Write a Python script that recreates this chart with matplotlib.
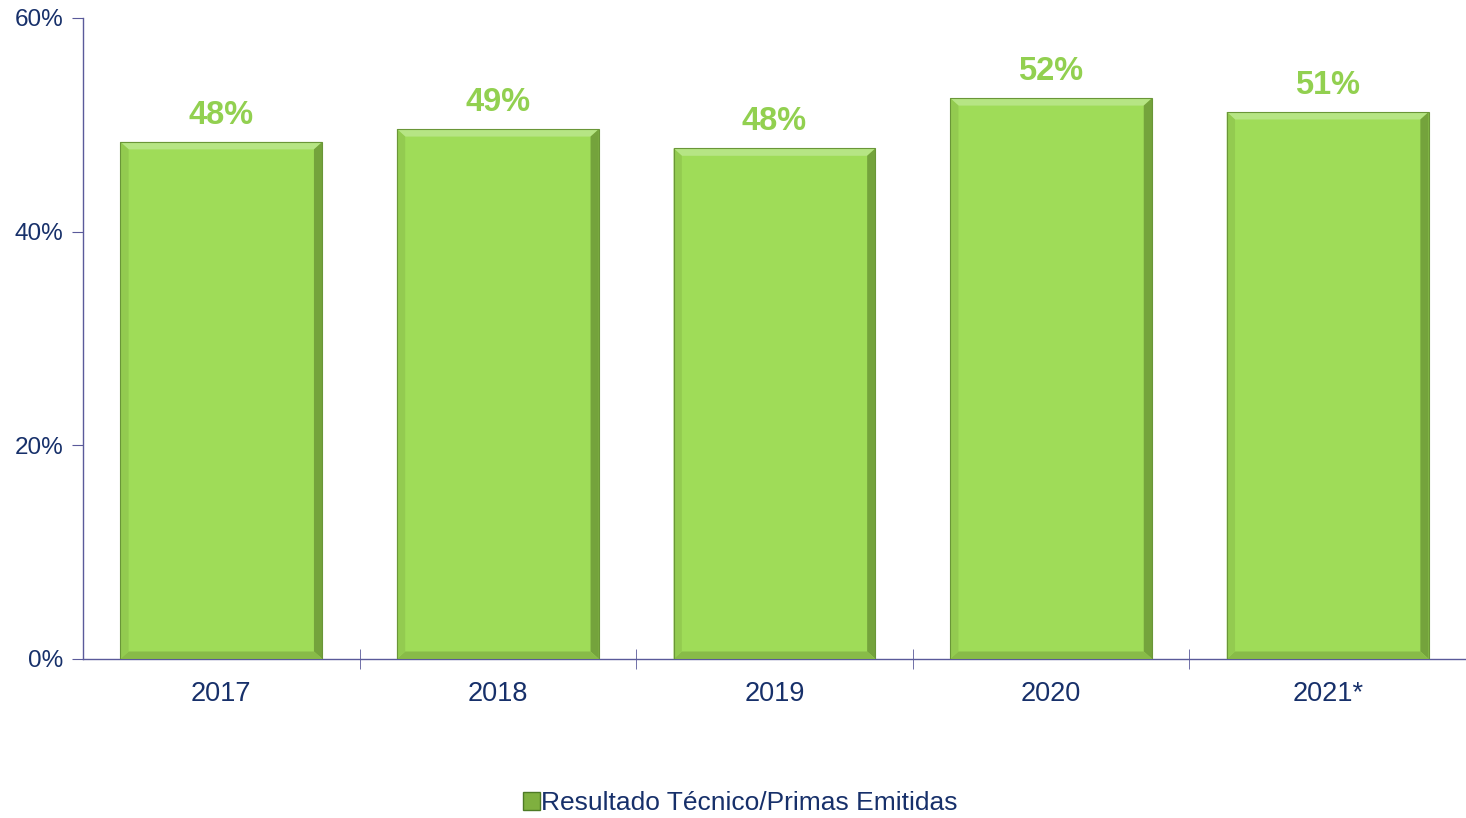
import matplotlib
matplotlib.use("Agg")
import matplotlib.pyplot as plt
from matplotlib.patches import Polygon, Rectangle
from matplotlib.ticker import FuncFormatter, FixedLocator

categories = ["2017", "2018", "2019", "2020", "2021*"]
values = [48.4, 49.6, 47.8, 52.5, 51.2]
labels = ["48%", "49%", "48%", "52%", "51%"]
series_name = "Resultado Técnico/Primas Emitidas"
yticks = [0, 20, 40, 60]

plt.rcParams['font.family'] = ['Liberation Sans', 'DejaVu Sans']
navy = "#17306a"
axis_col = "#5a5a9a"
green = "#9fdc58"
label_green = "#92d050"

fig = plt.figure(figsize=(14.66, 8.18), dpi=100)
ax = fig.add_axes([0.0566, 0.1944, 0.9434, 0.7836])

x = list(range(len(categories)))
width = 0.73
bars = ax.bar(x, values, width=width, color=green, edgecolor="none", linewidth=0, zorder=2)

bx = 0.03
by = 0.7
for rect in bars:
    x0 = rect.get_x(); x1 = x0 + rect.get_width()
    y0 = rect.get_y(); y1 = y0 + rect.get_height()
    ax.add_patch(Polygon([(x0, y1), (x1, y1), (x1 - bx, y1 - by), (x0 + bx, y1 - by)],
                         closed=True, facecolor="#b6e584", edgecolor="none", zorder=3))
    ax.add_patch(Polygon([(x1, y1), (x1, y0), (x1 - bx, y0 + by), (x1 - bx, y1 - by)],
                         closed=True, facecolor="#74a33c", edgecolor="none", zorder=3))
    ax.add_patch(Polygon([(x0, y0), (x1, y0), (x1 - bx, y0 + by), (x0 + bx, y0 + by)],
                         closed=True, facecolor="#88bb48", edgecolor="none", zorder=3))
    ax.add_patch(Polygon([(x0, y0), (x0, y1), (x0 + bx, y1 - by), (x0 + bx, y0 + by)],
                         closed=True, facecolor="#93cb50", edgecolor="none", zorder=3))
    ax.add_patch(Rectangle((x0, y0), x1 - x0, y1 - y0, facecolor="none",
                           edgecolor="#6a9638", linewidth=0.8, zorder=4))

for xi, v, lab in zip(x, values, labels):
    ax.annotate(lab, (xi, v), xytext=(0, 8), textcoords="offset points",
                ha="center", va="bottom", color=label_green, fontsize=23.5, fontweight="bold")

ax.set_xlim(-0.5, len(categories) - 0.5)
ax.set_ylim(0, 60)
ax.yaxis.set_major_locator(FixedLocator(yticks))
ax.yaxis.set_major_formatter(FuncFormatter(lambda v, p: f"{int(v)}%"))
ax.set_xticks(x)
ax.set_xticklabels(categories)
ax.xaxis.set_minor_locator(FixedLocator([i + 0.5 for i in x[:-1]]))

for s in ["top", "right"]:
    ax.spines[s].set_visible(False)
for s in ["left", "bottom"]:
    ax.spines[s].set_color(axis_col)
    ax.spines[s].set_linewidth(1.0)

ax.tick_params(axis="y", which="major", direction="out", length=8, color=axis_col,
               labelcolor=navy, labelsize=17.5, pad=6)
ax.tick_params(axis="x", which="major", length=0, labelcolor=navy, labelsize=19.5, pad=16)
ax.tick_params(axis="x", which="minor", direction="inout", length=14, color=axis_col)

handle = Rectangle((0, 0), 1, 1, facecolor="#7fb03f", edgecolor="#4d7a25")
fig.legend([handle], [series_name], loc="center", bbox_to_anchor=(0.505, 0.018),
           frameon=False, fontsize=19, handlelength=0.65, handleheight=0.65,
           handletextpad=0.05, labelcolor=navy)

fig.savefig("out.png", dpi=100)
